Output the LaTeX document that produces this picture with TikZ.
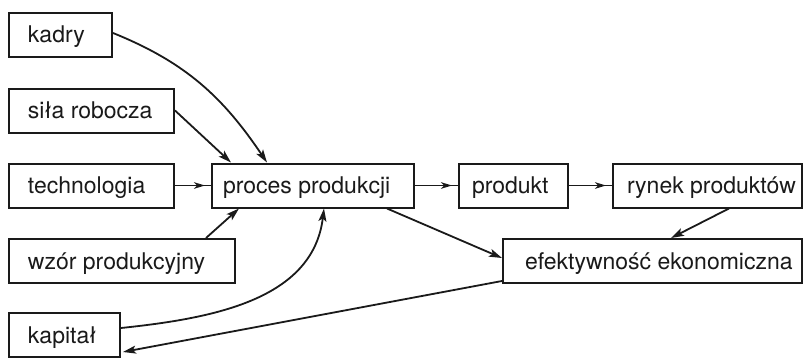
\documentclass[tikz,border=0pt]{standalone}
\usepackage{fontspec}
\setmainfont{TeX Gyre Heros}
\usetikzlibrary{arrows.meta,calc}

% box text: fixed box width, text set flush left after a given indent
\newcommand{\boxtxt}[3]{\hbox to #1pt{\hspace*{#2pt}#3\hfil}}

\definecolor{ink}{HTML}{1A1A1A}

\tikzset{
  box/.style={draw=ink, line width=2pt, inner xsep=0pt, inner ysep=0pt,
    minimum height=44pt, text height=19pt, text depth=3pt, text=ink,
    font=\fontsize{23}{27}\selectfont},
  conn/.style={draw=ink, line width=1.8pt,
    -{Stealth[length=13pt,width=8pt,inset=3pt]}},
  gapline/.style={draw=ink, line width=1.8pt,
    postaction={draw=ink, -{Stealth[length=11pt,width=6.5pt,inset=3pt]}, shorten >=6pt}},
}

\begin{document}
\begin{tikzpicture}[x=1pt,y=1pt]
  \useasboundingbox[fill=white] (0,0) rectangle (803,357);

  % left column of inputs
  \node[box] (kadry)   at (60.5,322)  {\boxtxt{103}{19}{kadry}};
  \node[box] (sila)    at (91.5,246.5){\boxtxt{165}{19}{siła robocza}};
  \node[box] (techn)   at (91.5,171.5){\boxtxt{165}{19}{technologia}};
  \node[box] (wzor)    at (122,96)    {\boxtxt{226}{19}{wzór produkcyjny}};
  \node[box] (kapital) at (64.5,22)   {\boxtxt{111}{19}{kapitał}};

  % main chain
  \node[box] (proces)  at (313,171.5) {\boxtxt{202}{11}{proces produkcji}};
  \node[box] (produkt) at (513.5,171.5){\boxtxt{109}{13}{produkt}};
  \node[box] (rynek)   at (707.5,171.5){\boxtxt{189}{14}{rynek produktów}};
  \node[box] (efekt)   at (652.5,96)  {\boxtxt{299}{22}{efektywność ekonomiczna}};

  % inputs into the production process
  \draw[conn] ($(kadry.east)+(0,2)$) to[out=-22,in=124]
              ($(proces.north west)+(56,0)$);
  \draw[conn] (sila.east) -- ($(proces.north west)+(20,0)$);
  \draw[gapline] (techn.east) -- (proces.west);
  \draw[conn] ($(wzor.north west)+(198,0)$) -- ($(proces.south west)+(28,0)$);
  \draw[conn] ($(kapital.east)+(0,7)$) to[out=6,in=-97]
              ($(proces.south west)+(113,0)$);

  % production chain
  \draw[gapline] (proces.east) -- (produkt.west);
  \draw[gapline] (produkt.east) -- (rynek.west);

  % economic efficiency and feedback to capital
  \draw[conn] ($(proces.south east)+(-28,0)$) -- ($(efekt.west)+(0,3)$);
  \draw[conn] ($(rynek.south west)+(117,0)$) -- ($(efekt.north west)+(169,0)$);
  \draw[conn] ($(efekt.south west)+(0,3)$) -- ($(kapital.east)+(2,-17)$);
\end{tikzpicture}
\end{document}
